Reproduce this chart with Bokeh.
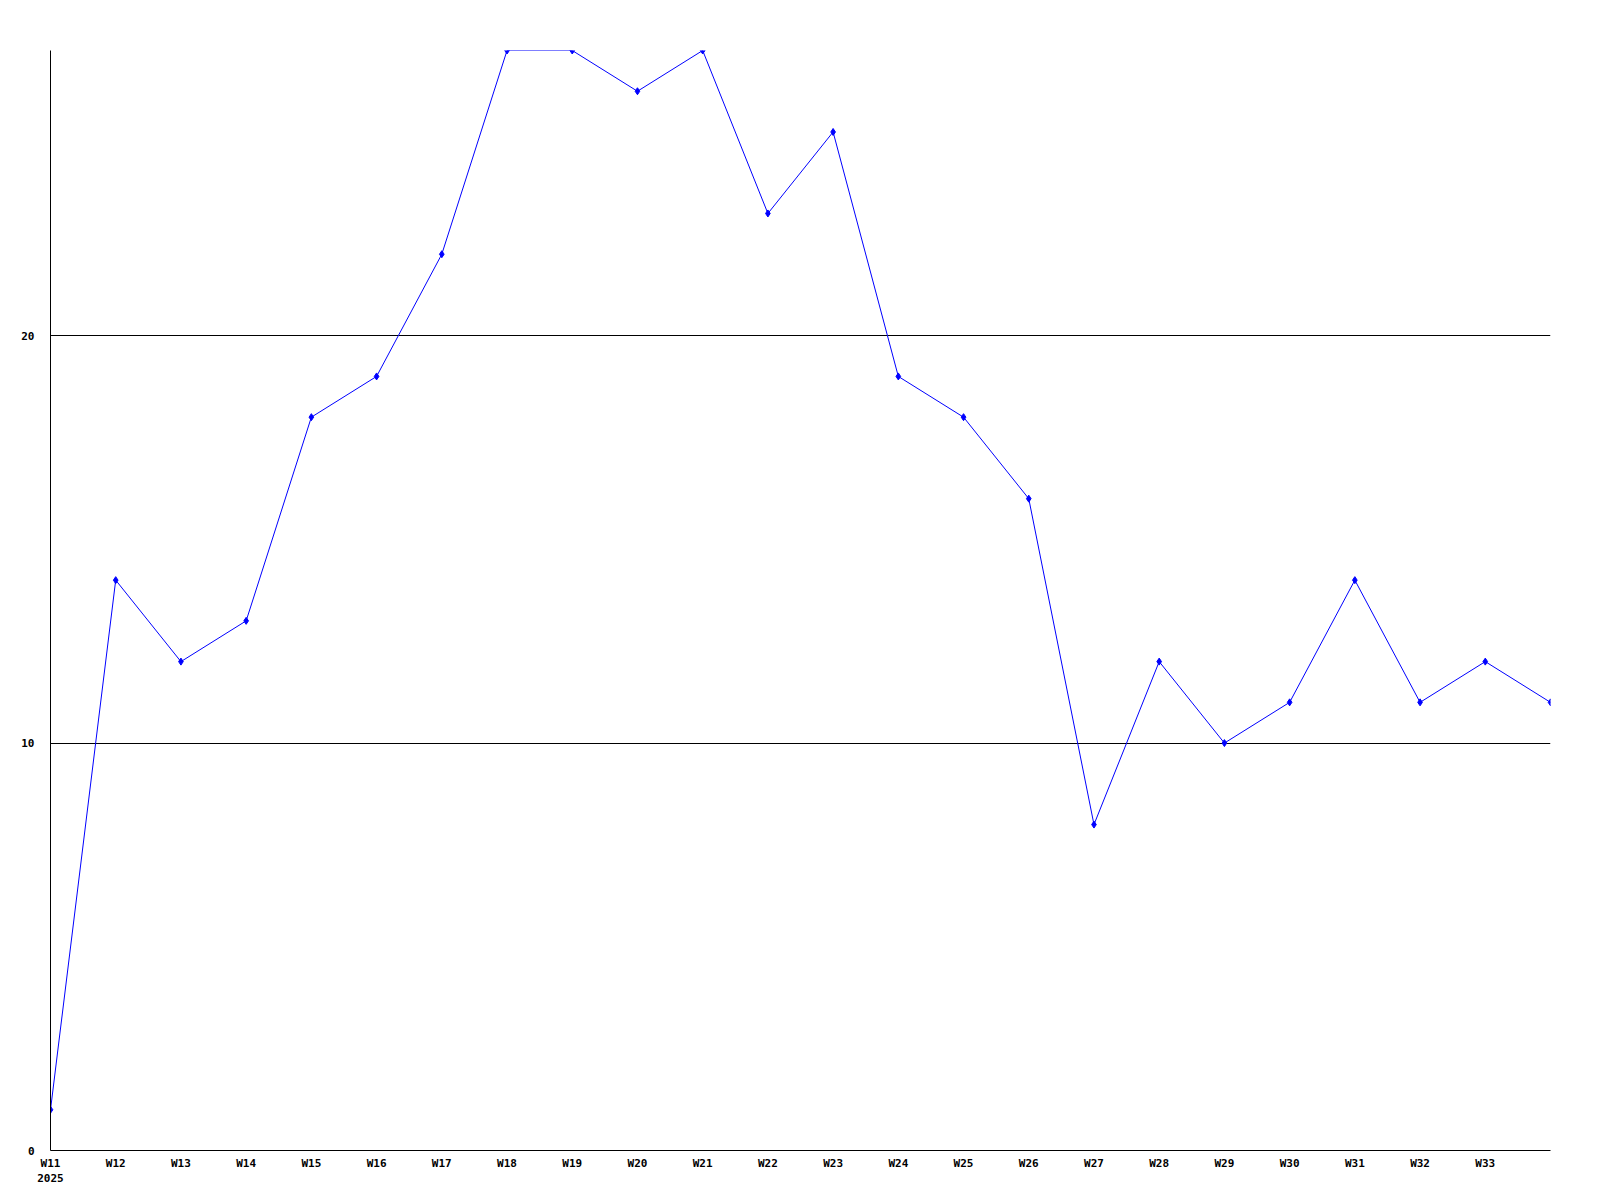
from bokeh.plotting import figure
from bokeh.models import Range1d, FixedTicker
from bokeh.embed import file_html
from bokeh.resources import INLINE

weeks = ["W11", "W12", "W13", "W14", "W15", "W16", "W17", "W18", "W19", "W20",
         "W21", "W22", "W23", "W24", "W25", "W26", "W27", "W28", "W29", "W30",
         "W31", "W32", "W33", "W34"]
values = [1, 14, 12, 13, 18, 19, 22, 27, 27, 26,
          27, 23, 25, 19, 18, 16, 8, 12, 10, 11,
          14, 11, 12, 11]
tick_labels = weeks[:23]
year_label = "2025"
y_ticks = [0, 10, 20]

xs = list(range(len(weeks)))

p = figure(width=1592, height=1192, output_backend="svg", toolbar_location=None,
           x_range=Range1d(0, len(weeks) - 1), y_range=Range1d(0, 27),
           min_border_left=50, min_border_right=42, min_border_top=50, min_border_bottom=42)
p.outline_line_color = None
p.background_fill_color = "white"
p.border_fill_color = "white"

p.line(xs, values, line_color="#0000ff", line_width=1)
p.scatter(xs, values, marker="diamond", size=7, color="#0000ff")

font = "DejaVu Sans Mono"
# x axis
p.xaxis.ticker = FixedTicker(ticks=list(range(len(tick_labels))))
overrides = {i: lab for i, lab in enumerate(tick_labels)}
overrides[0] = tick_labels[0] + "\n" + year_label
p.xaxis.major_label_overrides = overrides
p.xaxis.major_tick_out = 0
p.xaxis.major_tick_in = 0
p.xaxis.minor_tick_line_color = None
p.xaxis.axis_line_color = "black"
p.xaxis.major_label_text_font = font
p.xaxis.major_label_text_font_style = "bold"
p.xaxis.major_label_text_font_size = "11px"
p.xaxis.major_label_text_color = "black"
p.xaxis.major_label_standoff = 6

# y axis
p.yaxis.ticker = FixedTicker(ticks=y_ticks)
p.yaxis.major_tick_out = 0
p.yaxis.major_tick_in = 0
p.yaxis.minor_tick_line_color = None
p.yaxis.axis_line_color = "black"
p.yaxis.major_label_text_font = font
p.yaxis.major_label_text_font_style = "bold"
p.yaxis.major_label_text_font_size = "11px"
p.yaxis.major_label_text_color = "black"
p.yaxis.major_label_standoff = 16

p.xgrid.grid_line_color = None
p.ygrid.ticker = FixedTicker(ticks=[10, 20])
p.ygrid.grid_line_color = "black"
p.ygrid.grid_line_alpha = 1.0

open("out.html", "w").write(file_html(p, INLINE))
